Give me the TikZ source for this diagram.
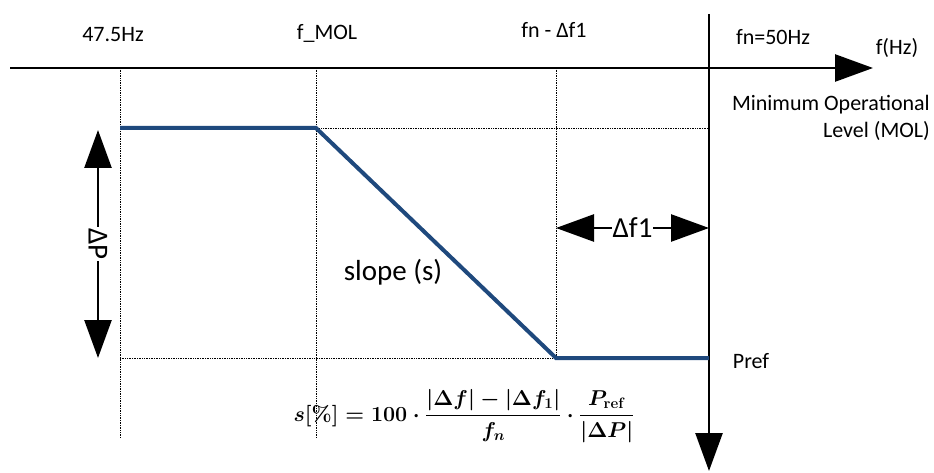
\RequirePackage{fix-cm}
\documentclass[tikz,border=0pt]{standalone}
\usepackage{amsmath}
\usepackage{amssymb}
\usepackage[no-math]{fontspec}
\setmainfont{Carlito}
\usetikzlibrary{arrows.meta}
\usetikzlibrary{positioning}
\usetikzlibrary{calc}

\definecolor{droopblue}{RGB}{31,73,125}

\begin{document}
\begin{tikzpicture}[x=1pt, y=-1pt,
    axis/.style={line width=2.6pt, -{Triangle[length=38pt, width=27pt]}},
    guide/.style={densely dotted, line width=0.7pt},
    droop/.style={line width=4pt, droopblue},
    span/.style={line width=2.6pt, {Triangle[length=38pt, width=27pt]}-{Triangle[length=38pt, width=27pt]}},
    lbl/.style={font=\fontsize{22}{27}\selectfont, inner sep=1pt},
    biglbl/.style={font=\fontsize{29}{33}\selectfont, inner sep=1pt, fill=white},
    formulafont/.style={font=\fontsize{21.5}{25}\selectfont\boldmath, inner sep=0pt}]
        \useasboundingbox (0,0) rectangle (934,473);

        % axes
        \coordinate (hstart) at (10, 68);
        \coordinate (hend) at (873, 68);
        \coordinate (vstart) at (709, 14);
        \coordinate (vend) at (709, 471);

        % frequency points
        \coordinate (flow) at (120, 68);
        \coordinate (fmol) at (316, 68);
        \coordinate (fdb) at (556, 68);
        \coordinate (flowend) at (120, 437);
        \coordinate (fmolend) at (316, 437);
        \coordinate (fdbend) at (556, 358);

        % power levels
        \coordinate (p1) at (120, 128);
        \coordinate (p2) at (316, 128);
        \coordinate (p3) at (556, 358);
        \coordinate (p4) at (709, 358);
        \coordinate (molend) at (709, 128);
        \coordinate (prefstart) at (120, 358);

        \draw[guide] (flow) -- (flowend);
        \draw[guide] (fmol) -- (fmolend);
        \draw[guide] (fdb) -- (fdbend);
        \draw[guide] (p2) -- (molend);
        \draw[guide] (prefstart) -- (p3);

        \draw[axis] (hstart) -- (hend);
        \draw[axis] (vstart) -- (vend);

        \draw[droop] (p1) -- (p2) -- (p3) -- (p4);

        % delta P and delta f1
        \coordinate (dptop) at (98, 130);
        \coordinate (dpbot) at (98, 358);
        \draw[span] (dptop) -- (dpbot) node[biglbl, midway, rotate=-90] (dP) {ΔP};

        \coordinate (dfleft) at (556, 228);
        \coordinate (dfright) at (709, 228);
        \draw[span] (dfleft) -- (dfright) node[biglbl, midway] (df) {Δf1};

        % labels
        \node[lbl] (l475) at (113, 35) {47.5Hz};
        \node[lbl] (lmol) at (327, 33) {f\_MOL};
        \node[lbl] (ldb) at (554, 30) {fn - Δf1};
        \node[lbl] (lfn) at (773, 37) {fn=50Hz};
        \node[lbl] (lfhz) at (897, 48) {f(Hz)};
        \node[lbl, align=right, anchor=east] (lmin) at (931, 118) {Minimum Operational\\Level (MOL)};
        \node[lbl] (lpref) at (751, 361) {Pref};
        \node[biglbl, fill=none] (lslope) at (393, 272) {slope (s)};
        \node[formulafont] (slopeeq) at (464, 416) {$\displaystyle s[\%] = 100\cdot\frac{\lvert\Delta f\rvert - \lvert\Delta f_1\rvert}{f_n}\cdot\frac{P_{\mathrm{ref}}}{\lvert\Delta P\rvert}$};
      \end{tikzpicture}
\end{document}
